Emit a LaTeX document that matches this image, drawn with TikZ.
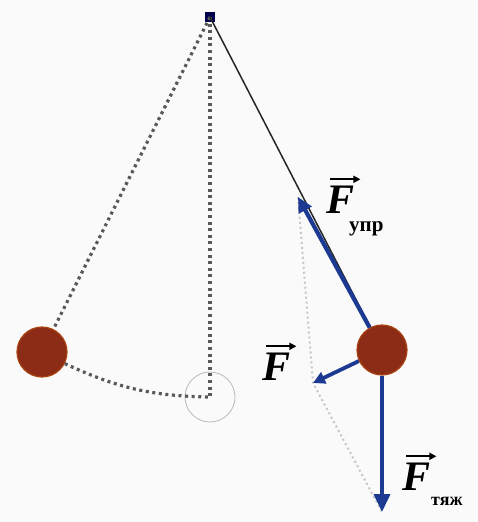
\documentclass[tikz,border=0pt]{standalone}
\usepackage{fontspec}
\setmainfont{Liberation Serif}
\usetikzlibrary{arrows.meta}
\begin{document}
\begin{tikzpicture}[x=1pt,y=-1pt,
  ball/.style={circle,fill=ballbrown,draw=ballbrown!75!orange,line width=1.2pt,minimum size=50pt,inner sep=0pt},
  ghost/.style={circle,draw=gray!55,line width=0.8pt,minimum size=50pt,inner sep=0pt},
  dots/.style={line width=3.2pt,draw=black!65,dash pattern=on 3pt off 3.6pt},
  guide/.style={line width=2pt,draw=gray!45,dash pattern=on 2pt off 3pt},
  force/.style={draw=forceblue,line width=4.2pt,-{Triangle[length=15pt,width=14pt]}},
  vecarrow/.style={draw=black,line width=2pt,-{Triangle[length=7pt,width=7pt]}},
  flet/.style={inner sep=0pt,anchor=base west,text=black,font=\fontsize{42}{42}\selectfont\bfseries\itshape},
  sub/.style={inner sep=0pt,anchor=base west,text=black,font=\fontsize{21}{21}\selectfont\bfseries}
]
\definecolor{ballbrown}{RGB}{140,44,22}
\definecolor{forceblue}{RGB}{28,58,145}
\fill[white!96!gray] (0,0) rectangle (478,522);
\useasboundingbox (0,0) rectangle (478,522);

% pivot and nodes
\node[fill=black!70!blue,minimum size=10pt,inner sep=0pt] (pivot) at (210,17) {};
\coordinate (bob) at (382,350);
\node[ghost] (rest) at (210,397) {};

% dotted construction lines
\node[ball] (left) at (42,352) {};
\draw[dots] (pivot.center) -- (left);
\draw[dots] (pivot.center) -- (rest.center);
\draw[dots] (left) to[bend right=12] (rest.center);

% tips of the forces
\coordinate (tipU) at (298,197);
\coordinate (tipF) at (313,383);
\coordinate (tipG) at (382,512);

% parallelogram guide
\draw[guide] (tipU) -- (tipF) -- (tipG);

% string
\draw[black!85,line width=1.5pt] (pivot.center) -- (bob);

% ball on the string
\node[ball] (right) at (bob) {};

% forces
\draw[force] (right) -- (tipU);
\draw[force,line width=3.8pt,-{Triangle[length=12pt,width=12pt]}] (right) -- (tipF);
\draw[force,line width=3.8pt,-{Triangle[length=18pt,width=16pt]}] (right.south) -- (tipG);

% labels
\node[flet] (lU) at (326,213) {F};
\node[sub] (sU) at (349,231) {упр};
\draw[vecarrow] ([xshift=4pt,yshift=6pt]lU.north west) -- ([xshift=6pt,yshift=6pt]lU.north east);

\node[flet] (lF) at (262,380) {F};
\draw[vecarrow] ([xshift=4pt,yshift=6pt]lF.north west) -- ([xshift=6pt,yshift=6pt]lF.north east);

\node[flet] (lG) at (402,490) {F};
\node[sub,font=\fontsize{18}{18}\selectfont\bfseries] (sG) at (431,505) {тяж};
\draw[vecarrow] ([xshift=4pt,yshift=6pt]lG.north west) -- ([xshift=6pt,yshift=6pt]lG.north east);
\end{tikzpicture}
\end{document}
